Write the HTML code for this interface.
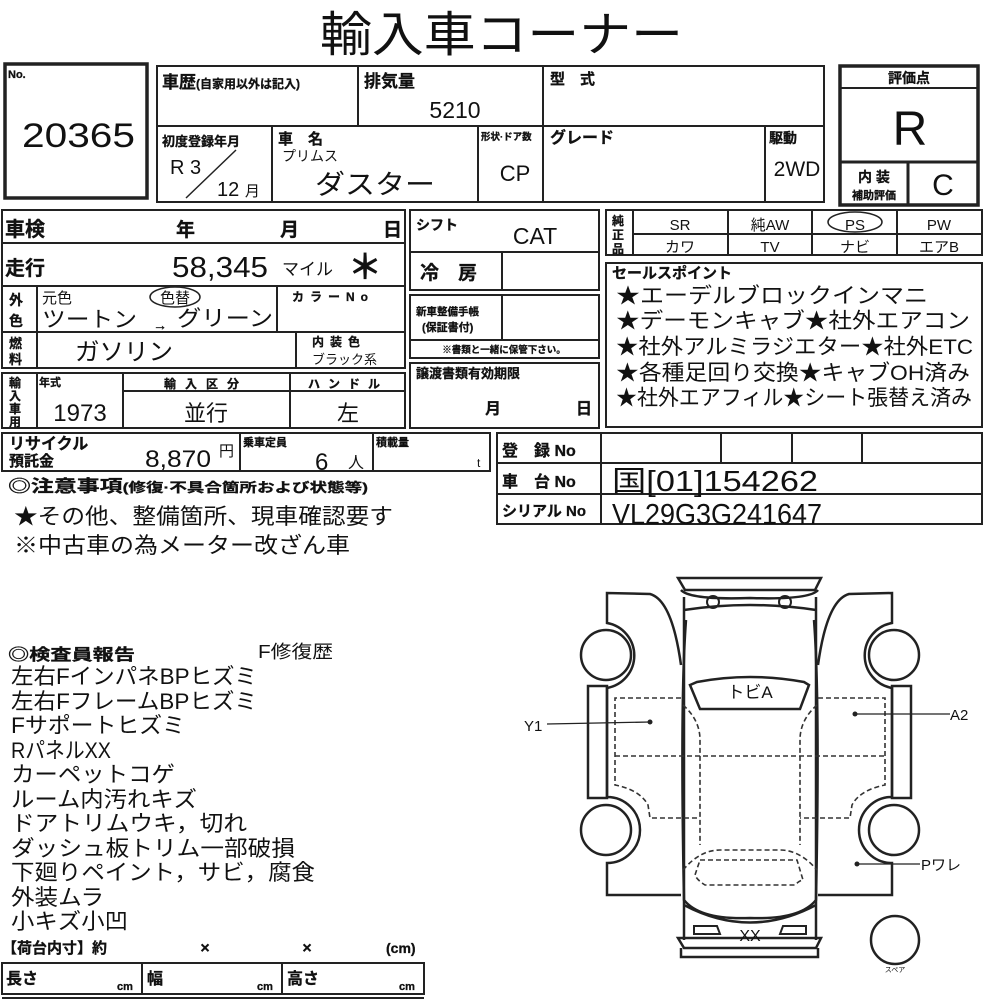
<!DOCTYPE html>
<html><head><meta charset="utf-8"><style>
html,body{margin:0;padding:0;background:#fff;}
svg{display:block;}
text{font-family:"Liberation Sans","Noto Sans CJK JP",sans-serif;fill:#111;}
.b{font-weight:bold;stroke:#111;stroke-width:0.3;}
</style></head><body>
<svg width="1000" height="1000" viewBox="0 0 1000 1000" xmlns="http://www.w3.org/2000/svg">
<g stroke="#222" fill="none" stroke-width="2">
<rect x="5" y="64" width="142" height="134" stroke-width="3.5"/>
<rect x="157" y="66" width="667" height="136"/>
<line x1="157" y1="126" x2="824" y2="126"/>
<line x1="358" y1="66" x2="358" y2="126"/>
<line x1="543" y1="66" x2="543" y2="202"/>
<line x1="272" y1="126" x2="272" y2="202"/>
<line x1="478" y1="126" x2="478" y2="202"/>
<line x1="765" y1="126" x2="765" y2="202"/>
<line x1="236" y1="150" x2="186" y2="198" stroke-width="1.5"/>
<rect x="840" y="66" width="138" height="139" stroke-width="3.5"/>
<line x1="840" y1="88" x2="978" y2="88"/>
<line x1="840" y1="162" x2="978" y2="162" stroke-width="3"/>
<line x1="908" y1="162" x2="908" y2="205" stroke-width="3"/>
<rect x="2" y="210" width="403" height="158"/>
<line x1="2" y1="243" x2="405" y2="243"/>
<line x1="2" y1="286" x2="405" y2="286"/>
<line x1="2" y1="332" x2="405" y2="332"/>
<line x1="37" y1="286" x2="37" y2="368"/>
<line x1="277" y1="286" x2="277" y2="332"/>
<line x1="296" y1="332" x2="296" y2="368"/>
<rect x="2" y="373" width="403" height="55"/>
<line x1="37" y1="373" x2="37" y2="428"/>
<line x1="123" y1="373" x2="123" y2="428"/>
<line x1="290" y1="373" x2="290" y2="428"/>
<line x1="123" y1="391" x2="405" y2="391"/>
<rect x="2" y="433" width="488" height="38"/>
<line x1="240" y1="433" x2="240" y2="471"/>
<line x1="373" y1="433" x2="373" y2="471"/>
<rect x="410" y="210" width="189" height="80"/>
<line x1="410" y1="252" x2="599" y2="252"/>
<line x1="502" y1="252" x2="502" y2="290"/>
<rect x="410" y="295" width="189" height="63"/>
<line x1="410" y1="340" x2="599" y2="340"/>
<line x1="502" y1="295" x2="502" y2="340"/>
<rect x="410" y="363" width="189" height="65"/>
<rect x="606" y="210" width="376" height="45"/>
<line x1="633" y1="234" x2="982" y2="234"/>
<line x1="633" y1="210" x2="633" y2="255"/>
<line x1="728" y1="210" x2="728" y2="255"/>
<line x1="812" y1="210" x2="812" y2="255"/>
<line x1="897" y1="210" x2="897" y2="255"/>
<ellipse cx="855" cy="222" rx="27" ry="10" stroke-width="1.5"/>
<rect x="606" y="263" width="376" height="164"/>
<rect x="497" y="433" width="485" height="91"/>
<line x1="497" y1="463" x2="982" y2="463"/>
<line x1="497" y1="494" x2="982" y2="494"/>
<line x1="601" y1="433" x2="601" y2="524"/>
<line x1="721" y1="433" x2="721" y2="463"/>
<line x1="792" y1="433" x2="792" y2="463"/>
<line x1="862" y1="433" x2="862" y2="463"/>
<rect x="2" y="963" width="422" height="31"/>
<line x1="142" y1="963" x2="142" y2="994"/>
<line x1="282" y1="963" x2="282" y2="994"/>
<line x1="2" y1="998" x2="424" y2="998"/>
<ellipse cx="175" cy="297" rx="25" ry="10" stroke-width="1.5"/>
</g>
<text x="320" y="51" font-size="48" textLength="363" lengthAdjust="spacingAndGlyphs">輸入車コーナー</text>
<text x="8" y="78" font-size="11" class="b">No.</text>
<text x="22" y="147" font-size="34" textLength="113" lengthAdjust="spacingAndGlyphs">20365</text>
<text x="162" y="88" font-size="17" class="b">車歴<tspan font-size="12">(自家用以外は記入)</tspan></text>
<text x="364" y="87" font-size="17" class="b">排気量</text>
<text x="455" y="118" font-size="23" text-anchor="middle">5210</text>
<text x="550" y="84" font-size="15" class="b">型　式</text>
<text x="162" y="146" font-size="13" class="b">初度登録年月</text>
<text x="170" y="174" font-size="20">R 3</text>
<text x="217" y="196" font-size="20">12 <tspan font-size="15">月</tspan></text>
<text x="278" y="144" font-size="15" class="b">車　名</text>
<text x="282" y="161" font-size="14">プリムス</text>
<text x="315" y="194" font-size="27" textLength="120" lengthAdjust="spacingAndGlyphs">ダスター</text>
<text x="481" y="140" font-size="9.5" class="b">形状·ドア数</text>
<text x="515" y="181" font-size="22" text-anchor="middle">CP</text>
<text x="550" y="143" font-size="16" class="b">グレード</text>
<text x="769" y="143" font-size="14" class="b">駆動</text>
<text x="797" y="176" font-size="21" text-anchor="middle">2WD</text>
<text x="909" y="83" font-size="14" class="b" text-anchor="middle">評価点</text>
<text x="910" y="145" font-size="48" text-anchor="middle">R</text>
<text x="874" y="182" font-size="14" class="b" text-anchor="middle">内 装</text>
<text x="874" y="199" font-size="11" class="b" text-anchor="middle">補助評価</text>
<text x="943" y="195" font-size="30" text-anchor="middle">C</text>

<text x="5" y="236" font-size="20" class="b">車検</text>
<text x="176" y="236" font-size="19" class="b">年</text>
<text x="280" y="236" font-size="19" class="b">月</text>
<text x="383" y="236" font-size="19" class="b">日</text>
<text x="5" y="275" font-size="20" class="b">走行</text>
<text x="172" y="277" font-size="29" textLength="96" lengthAdjust="spacingAndGlyphs">58,345</text>
<text x="282" y="275" font-size="17">マイル</text>
<text x="348" y="279" font-size="34" class="b">＊</text>
<text x="9" y="305" font-size="14" class="b">外</text>
<text x="9" y="326" font-size="14" class="b">色</text>
<text x="42" y="303" font-size="15">元色</text>
<text x="175" y="303" font-size="15" text-anchor="middle">色替</text>
<text x="42" y="327" font-size="22" textLength="95" lengthAdjust="spacingAndGlyphs">ツートン</text>
<text x="153" y="330" font-size="14" class="b">→</text>
<text x="177" y="326" font-size="22" textLength="96" lengthAdjust="spacingAndGlyphs">グリーン</text>
<text x="292" y="301" font-size="12" class="b" letter-spacing="6">カラーNo</text>
<text x="9" y="348" font-size="13" class="b">燃</text>
<text x="9" y="364" font-size="13" class="b">料</text>
<text x="75" y="360" font-size="24" textLength="98" lengthAdjust="spacingAndGlyphs">ガソリン</text>
<text x="312" y="346" font-size="12" class="b" letter-spacing="6">内装色</text>
<text x="312" y="364" font-size="13">ブラック系</text>
<text x="9" y="387" font-size="12" class="b">輸</text>
<text x="9" y="400" font-size="12" class="b">入</text>
<text x="9" y="413" font-size="12" class="b">車</text>
<text x="9" y="426" font-size="12" class="b">用</text>
<text x="39" y="386" font-size="11" class="b">年式</text>
<text x="80" y="421" font-size="24" text-anchor="middle">1973</text>
<text x="206" y="388" font-size="12" class="b" text-anchor="middle" letter-spacing="9">輸入区分</text>
<text x="348" y="388" font-size="12" class="b" text-anchor="middle" letter-spacing="8">ハンドル</text>
<text x="206" y="421" font-size="22" text-anchor="middle">並行</text>
<text x="348" y="421" font-size="22" text-anchor="middle">左</text>
<text x="9" y="449" font-size="16" class="b">リサイクル</text>
<text x="9" y="466" font-size="15" class="b">預託金</text>
<text x="145" y="467" font-size="24" textLength="66" lengthAdjust="spacingAndGlyphs">8,870</text>
<text x="219" y="456" font-size="15">円</text>
<text x="243" y="446" font-size="11" class="b">乗車定員</text>
<text x="315" y="470" font-size="24">6</text>
<text x="348" y="468" font-size="16">人</text>
<text x="376" y="446" font-size="11" class="b">積載量</text>
<text x="477" y="467" font-size="12">t</text>
<text x="8" y="492" font-size="17" class="b" textLength="360" lengthAdjust="spacingAndGlyphs">◎注意事項<tspan font-size="13">(修復·不具合箇所および状態等)</tspan></text>
<text x="14" y="524" font-size="22" textLength="379" lengthAdjust="spacingAndGlyphs">★その他、整備箇所、現車確認要す</text>
<text x="14" y="553" font-size="22" textLength="336" lengthAdjust="spacingAndGlyphs">※中古車の為メーター改ざん車</text>

<text x="416" y="230" font-size="14" class="b">シフト</text>
<text x="535" y="244" font-size="23" text-anchor="middle">CAT</text>
<text x="420" y="279" font-size="19" class="b">冷　房</text>
<text x="416" y="315" font-size="10.5" class="b">新車整備手帳</text>
<text x="422" y="331" font-size="11" class="b">(保証書付)</text>
<text x="504" y="353" font-size="9.5" class="b" text-anchor="middle">※書類と一緒に保管下さい。</text>
<text x="416" y="378" font-size="13" class="b">譲渡書類有効期限</text>
<text x="485" y="414" font-size="16" class="b">月</text>
<text x="576" y="414" font-size="16" class="b">日</text>

<text x="612" y="225" font-size="12" class="b">純</text>
<text x="612" y="239" font-size="12" class="b">正</text>
<text x="612" y="253" font-size="12" class="b">品</text>
<text x="680" y="230" font-size="15" text-anchor="middle">SR</text>
<text x="770" y="230" font-size="15" text-anchor="middle">純AW</text>
<text x="855" y="230" font-size="15" text-anchor="middle">PS</text>
<text x="939" y="230" font-size="15" text-anchor="middle">PW</text>
<text x="680" y="252" font-size="15" text-anchor="middle">カワ</text>
<text x="770" y="252" font-size="15" text-anchor="middle">TV</text>
<text x="855" y="252" font-size="15" text-anchor="middle">ナビ</text>
<text x="939" y="252" font-size="15" text-anchor="middle">エアB</text>
<text x="612" y="278" font-size="15" class="b">セールスポイント</text>
<text x="616" y="303" font-size="21.5" textLength="312" lengthAdjust="spacingAndGlyphs">★エーデルブロックインマニ</text>
<text x="616" y="328" font-size="21.5" textLength="354" lengthAdjust="spacingAndGlyphs">★デーモンキャブ★社外エアコン</text>
<text x="616" y="354" font-size="21.5" textLength="357" lengthAdjust="spacingAndGlyphs">★社外アルミラジエター★社外ETC</text>
<text x="616" y="380" font-size="21.5" textLength="354" lengthAdjust="spacingAndGlyphs">★各種足回り交換★キャブOH済み</text>
<text x="616" y="405" font-size="21.5" textLength="356" lengthAdjust="spacingAndGlyphs">★社外エアフィル★シート張替え済み</text>
<text x="502" y="456" font-size="16" class="b">登　録 No</text>
<text x="502" y="487" font-size="16" class="b">車　台 No</text>
<text x="502" y="516" font-size="15" class="b">シリアル No</text>
<text x="612" y="491" font-size="29" textLength="206" lengthAdjust="spacingAndGlyphs">国[01]154262</text>
<text x="612" y="524" font-size="29" textLength="210" lengthAdjust="spacingAndGlyphs">VL29G3G241647</text>

<text x="8" y="660" font-size="16" class="b" textLength="127" lengthAdjust="spacingAndGlyphs">◎検査員報告</text>
<text x="258" y="658" font-size="18" textLength="75" lengthAdjust="spacingAndGlyphs">F修復歴</text>
<g font-size="22">
<text x="11" y="684" textLength="246" lengthAdjust="spacingAndGlyphs">左右FインパネBPヒズミ</text>
<text x="11" y="709" textLength="246" lengthAdjust="spacingAndGlyphs">左右FフレームBPヒズミ</text>
<text x="11" y="733" textLength="174" lengthAdjust="spacingAndGlyphs">Fサポートヒズミ</text>
<text x="11" y="758" textLength="100" lengthAdjust="spacingAndGlyphs">RパネルXX</text>
<text x="11" y="782" textLength="164" lengthAdjust="spacingAndGlyphs">カーペットコゲ</text>
<text x="11" y="807" textLength="186" lengthAdjust="spacingAndGlyphs">ルーム内汚れキズ</text>
<text x="11" y="831" textLength="236" lengthAdjust="spacingAndGlyphs">ドアトリムウキ，切れ</text>
<text x="11" y="856" textLength="284" lengthAdjust="spacingAndGlyphs">ダッシュ板トリム一部破損</text>
<text x="11" y="880" textLength="304" lengthAdjust="spacingAndGlyphs">下廻りペイント，サビ，腐食</text>
<text x="11" y="905" textLength="93" lengthAdjust="spacingAndGlyphs">外装ムラ</text>
<text x="11" y="929" textLength="117" lengthAdjust="spacingAndGlyphs">小キズ小凹</text>
</g>
<text x="2" y="953" font-size="15" class="b">【荷台内寸】約</text>
<text x="205" y="953" font-size="16" class="b" text-anchor="middle">×</text>
<text x="307" y="953" font-size="16" class="b" text-anchor="middle">×</text>
<text x="386" y="953" font-size="14" class="b">(cm)</text>
<text x="6" y="984" font-size="16" class="b">長さ</text>
<text x="117" y="990" font-size="11" class="b">cm</text>
<text x="147" y="984" font-size="16" class="b">幅</text>
<text x="257" y="990" font-size="11" class="b">cm</text>
<text x="287" y="984" font-size="16" class="b">高さ</text>
<text x="399" y="990" font-size="11" class="b">cm</text>

<g stroke="#222" fill="none" stroke-width="2.5">
<path d="M678,578 L821,578 L815,590 L685,590 Z"/>
<path d="M681,590 Q690,600 750,598 Q810,600 818,590"/>
<path d="M684,597 L684,940 M816,597 L816,940"/>
<path d="M684,610 Q750,600 816,610"/>
<circle cx="713" cy="602" r="6" stroke-width="2"/>
<circle cx="785" cy="602" r="6" stroke-width="2"/>
<path d="M686,620 Q680,700 684,900 Q700,920 750,918 Q800,920 816,900 Q820,700 814,620"/>
<path d="M690,685 L697,682 Q750,672 804,682 L809,685 L800,709 L700,709 Z"/>
<path d="M684,905 Q750,940 816,905"/>
<path d="M678,938 L821,938 L816,948 L684,948 Z"/>
<path d="M681,948 L681,957 L818,957 L818,948"/>
<path d="M694,926 L717,926 L720,934 L694,934 Z" stroke-width="2"/>
<path d="M806,926 L783,926 L780,934 L806,934 Z" stroke-width="2"/>
<path d="M681,665 Q672,600 650,594 L607,593 L607,623 A33,33 0 0 1 607,688 L607,797 A33,33 0 0 1 607,863 L607,895 L681,895"/>
<rect x="588" y="686" width="19" height="112"/>
<circle cx="606" cy="655" r="25"/>
<circle cx="606" cy="830" r="25"/>
<path d="M818,665 Q827,600 849,594 L892,593 L892,623 A33,33 0 0 0 892,688 L892,797 A33,33 0 0 0 892,863 L892,895 L818,895"/>
<rect x="892" y="686" width="19" height="112"/>
<circle cx="894" cy="655" r="25"/>
<circle cx="894" cy="830" r="25"/>
<circle cx="895" cy="940" r="24"/>
</g>
<g stroke="#333" fill="none" stroke-width="1.6" stroke-dasharray="5,3">
<path d="M681,698 L615,698 L615,785 Q640,790 648,805 L650,818 L700,818"/>
<line x1="615" y1="756" x2="885" y2="756"/>
<path d="M818,698 L885,698 L885,785 Q860,790 852,805 L850,818 L800,818"/>
<path d="M683,705 Q700,720 700,740 L700,845 M817,705 Q800,720 800,740 L800,845"/>
<path d="M683,870 Q700,850 720,850 L780,850 Q800,850 817,870"/>
<path d="M700,860 L797,860 L803,880 Q800,880 795,885 L705,885 Q697,880 695,875 Z"/>
</g>
<g stroke="#222" stroke-width="1.3">
<line x1="547" y1="724" x2="650" y2="722"/>
<line x1="855" y1="714" x2="950" y2="714"/>
<line x1="857" y1="864" x2="920" y2="864"/>
</g>
<circle cx="650" cy="722" r="2.5" fill="#222"/>
<circle cx="855" cy="714" r="2.5" fill="#222"/>
<circle cx="857" cy="864" r="2.5" fill="#222"/>
<text x="524" y="731" font-size="15">Y1</text>
<text x="950" y="720" font-size="15">A2</text>
<text x="921" y="870" font-size="15">Pワレ</text>
<text x="750" y="698" font-size="17" text-anchor="middle">トビA</text>
<text x="750" y="941" font-size="16" text-anchor="middle">XX</text>
<text x="895" y="972" font-size="7" text-anchor="middle">スペア</text>
</svg>
</body></html>
